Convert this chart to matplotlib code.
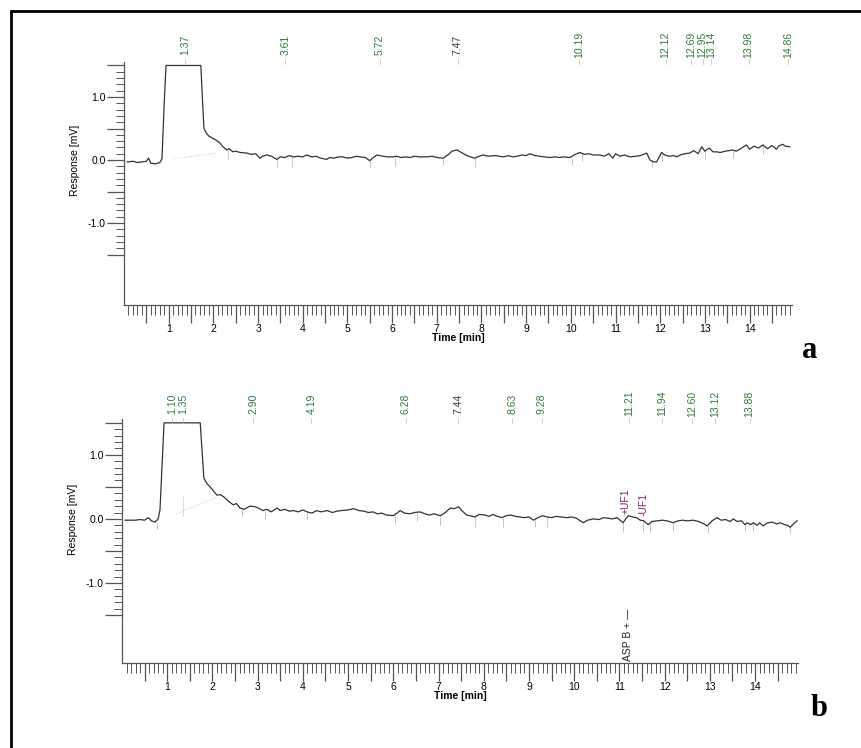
import numpy as np
import matplotlib
matplotlib.use('Agg')
import matplotlib.pyplot as plt
from matplotlib.lines import Line2D
from matplotlib.ticker import FixedLocator, FuncFormatter

plt.rcParams['font.family'] = ['Liberation Sans', 'DejaVu Sans']

# ---- chromatogram a : time [min] and response [mV]
timeA = [0.07, 0.2, 0.3, 0.4, 0.5, 0.55, 0.6, 0.7, 0.8, 0.85, 0.9, 0.94,
         1.72, 1.76, 1.79, 1.85, 1.9, 1.97, 2.05, 2.15, 2.2, 2.3, 2.35, 2.44,
         2.5, 2.6, 2.75, 2.85, 2.95, 3.04, 3.1, 3.2, 3.3, 3.42, 3.5, 3.6,
         3.7, 3.79, 3.9, 4.0, 4.09, 4.2, 4.3, 4.4, 4.54, 4.6, 4.7, 4.8,
         4.9, 5.0, 5.1, 5.2, 5.28, 5.4, 5.5, 5.58, 5.66, 5.8, 5.9, 6.02,
         6.1, 6.2, 6.3, 6.4, 6.5, 6.6, 6.78, 6.9, 7.0, 7.14, 7.25, 7.34,
         7.45, 7.55, 7.65, 7.75, 7.85, 7.95, 8.03, 8.15, 8.3, 8.4, 8.5, 8.6,
         8.7, 8.8, 8.9, 9.0, 9.08, 9.2, 9.3, 9.4, 9.53, 9.65, 9.75, 9.85,
         9.98, 10.1, 10.2, 10.3, 10.4, 10.5, 10.65, 10.75, 10.85, 10.94, 11.0, 11.1,
         11.2, 11.32, 11.45, 11.55, 11.7, 11.77, 11.85, 11.92, 12.03, 12.1, 12.2, 12.3,
         12.37, 12.45, 12.55, 12.66, 12.75, 12.85, 12.93, 13.0, 13.1, 13.18, 13.26, 13.35,
         13.45, 13.55, 13.62, 13.7, 13.8, 13.93, 14.0, 14.1, 14.2, 14.3, 14.4, 14.5,
         14.6, 14.65, 14.74, 14.8, 14.9]
respA = [-0.03, -0.02, -0.04, -0.03, -0.02, 0.03, -0.05, -0.06, -0.04, 0.02, 0.9, 1.5,
         1.5, 0.9, 0.5, 0.42, 0.38, 0.35, 0.32, 0.27, 0.22, 0.16, 0.18, 0.13,
         0.14, 0.12, 0.11, 0.09, 0.10, 0.03, 0.06, 0.08, 0.06, 0.01, 0.05, 0.04,
         0.07, 0.05, 0.06, 0.05, 0.08, 0.05, 0.06, 0.03, 0.01, 0.04, 0.03, 0.05,
         0.05, 0.03, 0.04, 0.06, 0.05, 0.04, -0.01, 0.04, 0.08, 0.06, 0.05, 0.05,
         0.06, 0.04, 0.05, 0.04, 0.06, 0.05, 0.05, 0.06, 0.04, 0.03, 0.08, 0.14,
         0.16, 0.12, 0.08, 0.05, 0.03, 0.06, 0.08, 0.06, 0.07, 0.06, 0.05, 0.07,
         0.05, 0.06, 0.08, 0.07, 0.10, 0.07, 0.06, 0.05, 0.04, 0.05, 0.04, 0.05,
         0.04, 0.09, 0.12, 0.09, 0.10, 0.08, 0.08, 0.06, 0.10, 0.03, 0.10, 0.06,
         0.08, 0.05, 0.06, 0.07, 0.11, 0.00, -0.03, -0.03, 0.12, 0.08, 0.06, 0.07,
         0.05, 0.08, 0.10, 0.11, 0.15, 0.10, 0.21, 0.14, 0.19, 0.13, 0.13, 0.12,
         0.14, 0.15, 0.16, 0.14, 0.18, 0.24, 0.17, 0.22, 0.19, 0.24, 0.18, 0.23,
         0.17, 0.22, 0.25, 0.22, 0.21]

peaksA = [1.37, 3.61, 5.72, 7.47, 10.19, 12.12, 12.69, 12.95, 13.14, 13.98, 14.86]
peakLabelsA = ['1.37', '3.61', '5.72', '7.47', '10.19', '12.12', '12.69', '12.95', '13.14', '13.98', '14.86']

# faint integration marks hanging under the trace (time, top, bottom)
markTimeA = [2.33, 3.42, 3.76, 5.5, 6.06, 7.14, 7.85, 10.02, 10.25, 11.81, 12.05, 13.0, 13.62, 14.3]
markTopA = [0.16, 0.01, 0.05, -0.01, 0.05, 0.03, 0.03, 0.04, 0.11, 0.00, 0.10, 0.14, 0.15, 0.22]
markBotA = [0.02, -0.11, -0.11, -0.12, -0.09, -0.08, -0.11, -0.08, -0.02, -0.12, -0.02, 0.02, 0.03, 0.10]

# ---- chromatogram b
timeB = [0.07, 0.2, 0.3, 0.4, 0.5, 0.58, 0.65, 0.73, 0.8, 0.84, 0.93,
         1.73, 1.81, 1.88, 1.95, 2.02, 2.1, 2.17, 2.24, 2.32, 2.4, 2.46, 2.53,
         2.61, 2.7, 2.78, 2.83, 2.95, 3.04, 3.12, 3.2, 3.3, 3.43, 3.5, 3.6,
         3.7, 3.79, 3.9, 4.0, 4.09, 4.2, 4.3, 4.4, 4.54, 4.65, 4.75, 4.85,
         5.0, 5.12, 5.25, 5.35, 5.45, 5.55, 5.64, 5.75, 5.85, 6.0, 6.08, 6.15,
         6.25, 6.37, 6.47, 6.59, 6.7, 6.8, 6.9, 7.04, 7.15, 7.26, 7.35, 7.44,
         7.53, 7.62, 7.7, 7.8, 7.9, 8.03, 8.12, 8.2, 8.3, 8.4, 8.5, 8.6,
         8.7, 8.8, 8.9, 9.0, 9.1, 9.2, 9.3, 9.4, 9.5, 9.6, 9.7, 9.84,
         9.95, 10.05, 10.2, 10.3, 10.42, 10.55, 10.65, 10.75, 10.85, 10.95, 11.08, 11.14,
         11.2, 11.3, 11.38, 11.46, 11.54, 11.64, 11.72, 11.83, 11.95, 12.05, 12.19, 12.3,
         12.4, 12.5, 12.63, 12.75, 12.85, 12.94, 13.05, 13.16, 13.25, 13.35, 13.45, 13.52,
         13.6, 13.7, 13.78, 13.83, 13.9, 13.96, 14.05, 14.1, 14.18, 14.28, 14.38, 14.48,
         14.56, 14.65, 14.72, 14.78, 14.86, 14.93]
respB = [-0.02, -0.02, -0.02, -0.01, -0.02, 0.02, -0.03, -0.05, 0.0, 0.14, 1.5,
         1.5, 0.64, 0.55, 0.50, 0.44, 0.37, 0.38, 0.35, 0.30, 0.25, 0.22, 0.24,
         0.17, 0.15, 0.18, 0.20, 0.19, 0.16, 0.13, 0.15, 0.11, 0.17, 0.13, 0.15,
         0.12, 0.13, 0.11, 0.14, 0.11, 0.09, 0.13, 0.11, 0.13, 0.10, 0.12, 0.13,
         0.14, 0.16, 0.13, 0.12, 0.10, 0.11, 0.08, 0.09, 0.06, 0.05, 0.09, 0.13,
         0.09, 0.08, 0.10, 0.11, 0.08, 0.06, 0.08, 0.05, 0.10, 0.17, 0.16, 0.19,
         0.12, 0.06, 0.05, 0.03, 0.07, 0.06, 0.04, 0.07, 0.04, 0.02, 0.05, 0.06,
         0.04, 0.03, 0.02, 0.03, -0.02, 0.02, 0.05, 0.03, 0.02, 0.04, 0.03, 0.02,
         0.03, 0.01, -0.06, -0.02, 0.00, -0.01, 0.02, 0.01, 0.00, 0.02, -0.06, 0.00,
         0.05, 0.03, 0.02, -0.02, -0.03, -0.09, -0.04, -0.03, -0.02, -0.03, -0.06, -0.03,
         -0.02, -0.03, -0.02, -0.04, -0.07, -0.11, -0.03, 0.02, -0.02, -0.01, -0.04, 0.00,
         -0.04, -0.03, -0.09, -0.06, -0.09, -0.06, -0.10, -0.06, -0.11, -0.06, -0.05, -0.08,
         -0.06, -0.09, -0.10, -0.13, -0.07, -0.03]

peaksB = [1.10, 1.35, 2.90, 4.19, 6.28, 7.44, 8.63, 9.28, 11.21, 11.94, 12.60, 13.12, 13.88]
peakLabelsB = ['1.10', '1.35', '2.90', '4.19', '6.28', '7.44', '8.63', '9.28', '11.21', '11.94', '12.60', '13.12', '13.88']

markTimeB = [0.77, 2.65, 3.16, 4.09, 6.04, 6.53, 7.04, 7.8, 8.43, 9.14, 9.4, 11.08, 11.53, 11.68, 12.19, 12.96, 13.78, 13.96, 14.78]
markTopB = [-0.05, 0.17, 0.13, 0.11, 0.05, 0.10, 0.05, 0.03, 0.02, -0.02, 0.03, -0.06, -0.03, -0.07, -0.06, -0.11, -0.09, -0.06, -0.13]
markBotB = [-0.15, 0.04, 0.0, -0.02, -0.08, -0.04, -0.10, -0.12, -0.12, -0.12, -0.12, -0.2, -0.2, -0.2, -0.2, -0.22, -0.2, -0.2, -0.22]

# event marks in b
ufTimes = [11.13, 11.53]
ufLevels = [0.27, 0.22]
ufLabels = ['+UF1', '-UF1']

W, H = 862, 748
green = '#2f7a3a'
dark = '#3a3a3a'
traceCol = '#333333'
axCol = '#555555'


def pxRect(x0, x1, ytop, ybot):
    # pixel box -> figure fraction
    return [x0 / W, 1 - ybot / H, (x1 - x0) / W, (ybot - ytop) / H]


def drawPanel(ax, t, r, ymin, peaks, labels, labelY, mt, mtop, mbot):
    ax.vlines(mt, mbot, mtop, color='#c4c4c4', lw=0.7)
    ax.plot(t, r, color=traceCol, lw=0.9)
    ax.set_xlim(0, 14.95)
    ax.set_ylim(ymin, 1.56)
    for s in ['top', 'right']:
        ax.spines[s].set_visible(False)
    for s in ['left', 'bottom']:
        ax.spines[s].set_color(axCol)
        ax.spines[s].set_linewidth(0.9)

    # x ticks: long every 0.5, labels on whole minutes, short every 0.1
    ax.xaxis.set_major_locator(FixedLocator(np.arange(0.5, 14.6, 0.5)))
    ax.xaxis.set_minor_locator(FixedLocator(np.arange(0.1, 14.95, 0.1)))
    ax.xaxis.set_major_formatter(FuncFormatter(lambda v, p: '%d' % v if abs(v - round(v)) < 1e-6 else ''))
    ax.tick_params(axis='x', which='major', length=13, width=0.9, color=axCol, labelsize=7.5, pad=1)
    ax.tick_params(axis='x', which='minor', length=7.5, width=0.7, color=axCol)

    # y ticks
    ax.yaxis.set_major_locator(FixedLocator([-1.5, -1.0, -0.5, 0.0, 0.5, 1.0, 1.5]))
    ax.yaxis.set_minor_locator(FixedLocator(np.arange(-1.5, 1.55, 0.1)))
    ax.yaxis.set_major_formatter(FuncFormatter(lambda v, p: '%.1f' % v if abs(v - round(v)) < 1e-6 else ''))
    ax.tick_params(axis='y', which='major', length=12, width=0.9, color=axCol, labelsize=7.5, pad=1)
    ax.tick_params(axis='y', which='minor', length=6, width=0.7, color=axCol)

    ax.set_xlabel('Time [min]', fontsize=7.5, fontweight='bold')
    ax.xaxis.set_label_coords(0.5, -0.115)
    ax.text(-0.073, (0 - ymin) / (1.56 - ymin), 'Response [mV]', rotation=90, fontsize=7.5,
            ha='center', va='center', transform=ax.transAxes)

    # retention time labels along the top
    for pt, lab in zip(peaks, labels):
        col = dark if lab in ('7.47', '7.44') else green
        ax.text(pt, labelY, lab, rotation=90, fontsize=7.5, color=col,
                ha='center', va='center', clip_on=False)
        ax.plot([pt, pt], [labelY - 0.3, labelY - 0.22], color='#bbbbbb', lw=0.5, clip_on=False)


fig = plt.figure(figsize=(W / 100, H / 100), dpi=100)

axA = fig.add_axes(pxRect(124, 792, 61.7, 305))
drawPanel(axA, timeA, respA, -2.3, peaksA, peakLabelsA, 1.83, markTimeA, markTopA, markBotA)
# faint drawn baseline under the big peak
axA.plot([1.1, 2.08], [0.02, 0.11], color='#bbbbbb', lw=0.6, ls=':')

axB = fig.add_axes(pxRect(122, 798, 419, 663))
drawPanel(axB, timeB, respB, -2.25, peaksB, peakLabelsB, 1.80, markTimeB, markTopB, markBotB)
axB.plot([1.2, 2.1], [0.08, 0.34], color='#bbbbbb', lw=0.6, ls=':')
axB.plot([1.35, 1.35], [0.05, 0.35], color='#cccccc', lw=0.5)
for ut, ul, lab in zip(ufTimes, ufLevels, ufLabels):
    axB.text(ut, ul, lab, rotation=90, fontsize=7.5, color='#7d1f6e', ha='center', va='center')
axB.text(11.2, -1.81, 'ASP B + \u2014', rotation=90, fontsize=7.5, color='#222222',
         ha='center', va='center')

# panel letters
fig.text(810 / W, 1 - 351 / H, 'a', fontsize=22, fontweight='bold', family='Liberation Serif',
         ha='center', va='center')
fig.text(819 / W, 1 - 709 / H, 'b', fontsize=22, fontweight='bold', family='Liberation Serif',
         ha='center', va='center')

# frame around the figure (only top and left show)
fig.add_artist(Line2D([10 / W, 1], [1 - 11 / H, 1 - 11 / H], color='black', lw=2,
                      solid_capstyle='butt', transform=fig.transFigure))
fig.add_artist(Line2D([11 / W, 11 / W], [0, 1 - 10 / H], color='black', lw=2,
                      solid_capstyle='butt', transform=fig.transFigure))

fig.savefig('out.png', dpi=100)
